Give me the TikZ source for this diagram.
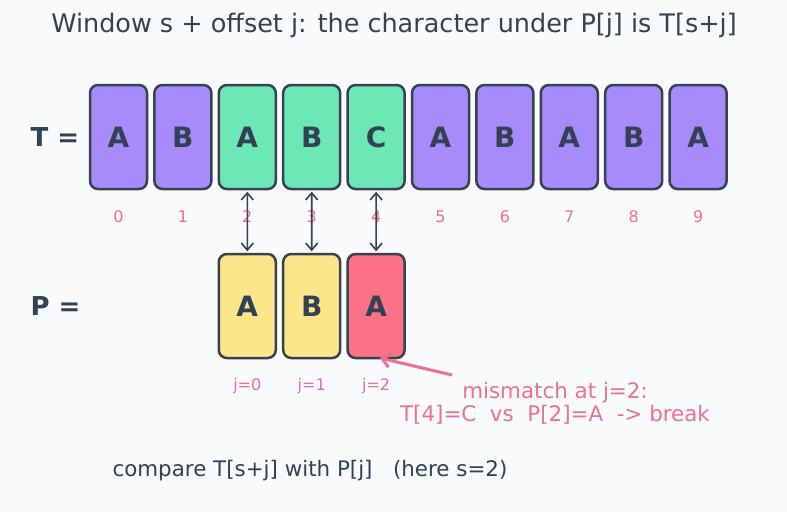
\documentclass[tikz,border=0pt]{standalone}
\usepackage{fontspec}
\setmainfont{DejaVu Sans}
\usetikzlibrary{arrows.meta}
\definecolor{bg}{HTML}{F9FAFC}
\definecolor{ink}{HTML}{334155}
\definecolor{edge}{HTML}{374151}
\definecolor{purp}{HTML}{A78BFA}
\definecolor{grn}{HTML}{6EE7B7}
\definecolor{yel}{HTML}{FDE68A}
\definecolor{rd}{HTML}{FB7185}
\definecolor{pk}{HTML}{EE7090}
\tikzset{
  cell/.style={draw=edge, line width=2.5pt, rounded corners=8pt, minimum width=57pt, minimum height=104pt, inner sep=0pt, text=ink, font=\fontsize{28}{32}\selectfont\bfseries},
  idx/.style={text=pk, font=\fontsize{16}{19}\selectfont},
  lbl/.style={text=ink, font=\fontsize{26}{30}\selectfont\bfseries, anchor=west},
  link/.style={draw=edge, line width=1.6pt, {Straight Barb[length=7pt,width=12pt]}-{Straight Barb[length=7pt,width=12pt]}, shorten <=1.5pt, shorten >=1.5pt}
}
\begin{document}
\begin{tikzpicture}[x=1pt,y=-1pt]
\fill[bg] (0,0) rectangle (787,512);
\useasboundingbox (0,0) rectangle (787,512);
\node[text=edge, font=\fontsize{25.5}{30}\selectfont] (title) at (394,25) {Window s + offset j: the character under P[j] is T[s+j]};
\node[lbl] (tl) at (27,137) {T =};
\node[lbl] (pl) at (27,306) {P =};
\foreach \i/\ch/\col in {0/A/purp,1/B/purp,2/A/grn,3/B/grn,4/C/grn,5/A/purp,6/B/purp,7/A/purp,8/B/purp,9/A/purp}{
  \node[cell, fill=\col] (t\i) at ({118.5+64.4*\i},137) {\ch};
  \node[idx] (n\i) at ({118.5+64.4*\i},217) {\i};
}
\foreach \j/\ch/\col in {0/A/yel,1/B/yel,2/A/rd}{
  \node[cell, fill=\col] (p\j) at ({247.3+64.4*\j},306) {\ch};
  \node[idx] (jl\j) at ({247.3+64.4*\j},386) {j=\j};
}
\draw[link] (t2.south) -- (p0.north);
\draw[link] (t3.south) -- (p1.north);
\draw[link] (t4.south) -- (p2.north);
\node[text=pk, font=\fontsize{21.4}{23}\selectfont, align=center] (mm) at (555,403) {mismatch at j=2:\\T[4]=C\ \ vs\ \ P[2]=A\ \ -> break};
\coordinate (mstart) at (452,375);
\draw[pk, line width=3pt, -{Straight Barb[length=8pt,width=14pt]}] (mstart) -- (380,358);
\node[text=ink, font=\fontsize{21.4}{24}\selectfont, anchor=west] (cmp) at (109,471) {compare T[s+j] with P[j]\ \ \ (here s=2)};
\end{tikzpicture}
\end{document}
